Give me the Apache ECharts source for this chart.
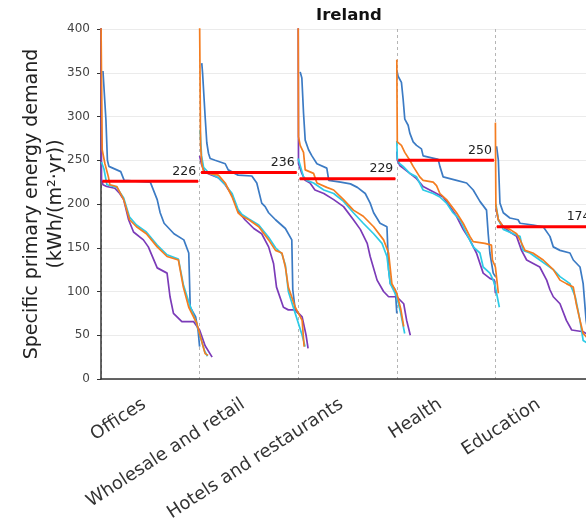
<!DOCTYPE html>
<html>
<head>
<meta charset="utf-8">
<script src="https://cdn.jsdelivr.net/npm/echarts@6/dist/echarts.min.js"></script>
<style>html,body{margin:0;padding:0;background:#fff;}#chart{width:586px;height:530px;}</style>
</head>
<body>
<div id="chart"></div>
<script>
// ---- data (fraction of block width, value in kWh/(m²·yr)) ----
const categories = ['Offices', 'Wholesale and retail', 'Hotels and restaurants', 'Health', 'Education'];
const meanValues = [226, 236, 229, 250, 174];

const officesBlue = [[0.02,352],[0.05,296],[0.065,250],[0.08,243],[0.2,237],[0.235,227],[0.5,225],[0.57,205],[0.6,190],[0.64,178],[0.74,166],[0.84,159],[0.89,144],[0.905,82],[0.96,71],[0.985,55],[1.0,37]];
const officesOrange = [[0.0,410],[0.012,262],[0.04,246],[0.075,231],[0.09,222],[0.16,220],[0.23,205],[0.29,182],[0.36,174],[0.46,166],[0.57,151],[0.67,140],[0.785,136],[0.835,105],[0.89,82],[0.97,64],[1.056,29],[1.086,27]];
const officesCyan = [[0.005,248],[0.03,240],[0.06,222],[0.16,219],[0.23,207],[0.29,185],[0.36,176],[0.46,168],[0.57,153],[0.67,142],[0.785,137],[0.835,108],[0.89,88],[0.97,63],[1.05,32],[1.08,26]];
const officesPurple = [[0.0,410],[0.005,228],[0.02,222],[0.058,220],[0.14,218],[0.19,212],[0.23,205],[0.28,182],[0.33,168],[0.43,159],[0.48,151],[0.57,127],[0.67,121],[0.70,94],[0.735,75],[0.82,65.5],[0.94,65.5],[1.0,56],[1.056,38],[1.127,25]];

const wholesaleBlue = [[0.022,361],[0.03,350],[0.056,300],[0.073,270],[0.09,258],[0.107,252],[0.157,250],[0.26,246],[0.29,239],[0.39,233],[0.53,232],[0.58,224],[0.63,201],[0.665,197],[0.70,190],[0.77,182],[0.87,172],[0.935,159],[0.945,102],[0.97,79],[1.0,75]];
const wholesaleOrange = [[0.0,410],[0.01,267],[0.022,246],[0.04,237],[0.09,235],[0.19,233],[0.26,224],[0.33,208],[0.39,190],[0.43,186],[0.50,182],[0.60,174],[0.70,159],[0.77,147],[0.835,144],[0.87,128],[0.90,105],[0.97,82],[1.04,67],[1.06,37]];
const wholesaleCyan = [[0.005,285],[0.02,255],[0.04,242],[0.09,236],[0.19,230],[0.26,222],[0.33,212],[0.39,194],[0.43,188],[0.50,183],[0.60,176],[0.70,162],[0.77,150],[0.835,143],[0.87,130],[0.90,100],[0.97,75],[1.04,50],[1.07,37]];
const wholesalePurple = [[0.0,255],[0.02,245],[0.05,237],[0.1,234],[0.19,230],[0.26,222],[0.33,210],[0.39,192],[0.46,182],[0.55,172],[0.63,166],[0.70,151],[0.75,132],[0.78,105],[0.85,82],[0.90,79],[0.97,79],[1.04,71],[1.08,50],[1.10,35]];

const hotelsBlue = [[0.02,351],[0.037,344],[0.054,304],[0.071,273],[0.105,262],[0.139,255],[0.19,246],[0.29,241],[0.31,227],[0.43,225],[0.53,223],[0.60,219],[0.68,212],[0.73,201],[0.765,190],[0.83,178],[0.90,174],[0.917,125],[0.934,109],[0.985,102],[1.0,75]];
const hotelsOrange = [[0.0,410],[0.003,277],[0.02,267],[0.054,259],[0.071,239],[0.156,235],[0.19,224],[0.29,219],[0.36,216],[0.46,205],[0.56,193],[0.66,186],[0.765,174],[0.866,159],[0.917,144],[0.95,109],[1.0,98],[1.04,80],[1.07,60]];
const hotelsCyan = [[0.0,252],[0.003,250],[0.054,231],[0.088,227],[0.156,224],[0.26,216],[0.36,212],[0.46,203],[0.56,190],[0.66,178],[0.765,166],[0.85,155],[0.90,140],[0.934,109],[1.0,94],[1.04,75],[1.08,52]];
const hotelsPurple = [[0.0,410],[0.003,246],[0.037,235],[0.071,227],[0.12,224],[0.17,216],[0.26,212],[0.36,205],[0.46,197],[0.56,182],[0.63,171],[0.70,155],[0.73,140],[0.80,113],[0.866,100],[0.917,94],[1.0,94],[1.07,86],[1.10,67],[1.137,50]];

const healthBlue = [[0.0,353],[0.013,346],[0.047,339],[0.064,320],[0.081,297],[0.115,290],[0.132,281],[0.166,271],[0.2,267],[0.25,263],[0.267,255],[0.42,251],[0.437,243],[0.47,231],[0.606,227],[0.708,224],[0.775,216],[0.843,203],[0.91,193],[0.927,166],[0.944,144],[0.978,121],[1.0,117]];
const healthOrange = [[0.0,365],[0.005,271],[0.047,267],[0.081,259],[0.132,250],[0.166,243],[0.233,231],[0.267,227],[0.369,225],[0.403,221],[0.437,212],[0.504,205],[0.606,190],[0.673,178],[0.741,163],[0.775,157],[0.893,155],[0.96,153],[0.97,136],[1.0,128],[1.03,98]];
const healthCyan = [[0.0,272],[0.005,252],[0.03,246],[0.064,243],[0.132,235],[0.2,231],[0.267,216],[0.369,212],[0.437,208],[0.504,201],[0.57,190],[0.64,182],[0.708,166],[0.775,151],[0.843,144],[0.876,128],[0.944,121],[0.978,113],[1.0,105],[1.04,82]];
const healthPurple = [[0.0,260],[0.005,250],[0.03,244],[0.064,241],[0.132,235],[0.2,229],[0.267,220],[0.335,216],[0.47,208],[0.54,197],[0.606,186],[0.673,171],[0.741,159],[0.808,144],[0.876,121],[0.944,115],[0.99,113],[1.0,98]];

const educationBlue = [[0.012,266],[0.03,250],[0.046,201],[0.08,190],[0.147,184],[0.23,182],[0.25,178],[0.38,176],[0.485,174],[0.553,163],[0.587,151],[0.655,147],[0.756,144],[0.79,136],[0.858,128],[0.89,109],[0.92,67],[0.95,45]];
const educationOrange = [[0.0,293],[0.005,197],[0.03,182],[0.08,174],[0.147,171],[0.215,166],[0.25,159],[0.30,147],[0.38,144],[0.485,136],[0.587,125],[0.655,113],[0.72,109],[0.79,105],[0.82,86],[0.858,67],[0.89,52],[0.95,45]];
const educationCyan = [[0.005,200],[0.03,182],[0.08,171],[0.18,166],[0.25,163],[0.28,147],[0.35,144],[0.45,136],[0.587,125],[0.655,117],[0.756,109],[0.81,94],[0.858,67],[0.89,44],[0.95,40]];
const educationPurple = [[0.005,195],[0.03,182],[0.08,174],[0.147,168],[0.215,163],[0.265,147],[0.317,136],[0.45,128],[0.52,113],[0.553,102],[0.587,94],[0.655,86],[0.72,67],[0.774,56],[0.89,54],[0.95,50]];

// ---- assembly ----
const curveSets = {
  blue:   [officesBlue, wholesaleBlue, hotelsBlue, healthBlue, educationBlue],
  purple: [officesPurple, wholesalePurple, hotelsPurple, healthPurple, educationPurple],
  cyan:   [officesCyan, wholesaleCyan, hotelsCyan, healthCyan, educationCyan],
  orange: [officesOrange, wholesaleOrange, hotelsOrange, healthOrange, educationOrange]
};
const colours = { blue: '#3c7bc4', purple: '#7b3bb8', cyan: '#2dcbe6', orange: '#f47d20' };

const series = [];
Object.keys(curveSets).forEach(function (key) {
  curveSets[key].forEach(function (curve, i) {
    series.push({
      type: 'line', xAxisIndex: 0, yAxisIndex: 0,
      showSymbol: false, symbol: 'none', silent: true,
      lineStyle: { color: colours[key], width: 1.7 },
      itemStyle: { color: colours[key] },
      data: curve.map(function (p) { return [i + p[0], p[1]]; }),
      z: 2
    });
  });
});
meanValues.forEach(function (m, i) {
  series.push({
    type: 'line', xAxisIndex: 0, yAxisIndex: 0,
    showSymbol: true, symbol: 'circle', symbolSize: 1, silent: true,
    lineStyle: { color: '#ff0000', width: 3 },
    itemStyle: { color: '#ff0000' },
    label: { show: false },
    data: [
      [i + 0.015, m],
      { value: [i + 0.985, m], label: { show: true, position: 'top', align: 'right', distance: 3, offset: [-2, 0], formatter: String(m), color: '#222', fontSize: 12.5, fontFamily: 'DejaVu Sans' } }
    ],
    z: 5
  });
});

const chart = echarts.init(document.getElementById('chart'), null, { renderer: 'canvas' });
chart.setOption({
  animation: false,
  backgroundColor: '#ffffff',
  title: {
    text: 'Ireland', left: 344, top: 2, textAlign: 'center',
    textStyle: { fontSize: 16.5, fontWeight: 'bold', color: '#111', fontFamily: 'DejaVu Sans' }
  },
  grid: { left: 101, top: 29, width: 493, bottom: 151, containLabel: false, outerBoundsMode: 'none' },
  xAxis: [
    {
      type: 'value', min: 0, max: 5, interval: 1, position: 'bottom',
      axisLine: { show: false }, axisTick: { show: false }, axisLabel: { show: false },
      splitLine: { show: true, lineStyle: { color: '#b5b5b5', type: [3, 3], width: 1 } }
    },
    {
      type: 'category', data: categories, position: 'bottom', boundaryGap: true,
      axisLine: { show: true, lineStyle: { color: '#333', width: 1.5 } },
      axisTick: { show: false },
      splitLine: { show: false },
      axisLabel: { rotate: 33, margin: 20, padding: [0, 7, 0, 0], fontSize: 18, color: '#333', fontFamily: 'DejaVu Sans', interval: 0 }
    }
  ],
  yAxis: {
    type: 'value', min: 0, max: 400, interval: 50,
    name: 'Specific primary energy demand\n(kWh/(m²·yr))',
    nameLocation: 'middle', nameGap: 33, nameRotate: 90, nameMoveOverlap: false,
    nameTextStyle: { fontSize: 19, color: '#222', lineHeight: 24, fontFamily: 'DejaVu Sans' },
    axisLine: { show: true, lineStyle: { color: '#333', width: 1.5 } },
    axisTick: { show: true, length: 4, lineStyle: { color: '#333' } },
    axisLabel: { margin: 11, fontSize: 12, color: '#444', fontFamily: 'DejaVu Sans' },
    splitLine: { show: true, lineStyle: { color: '#ebebeb', width: 1 } }
  },
  series: series
});
</script>
</body>
</html>
